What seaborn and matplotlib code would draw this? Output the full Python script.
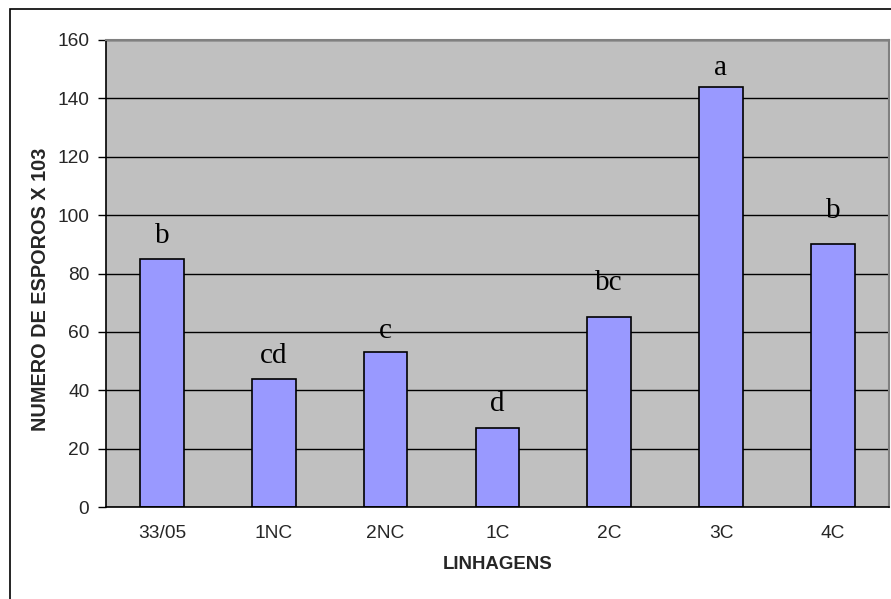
import pandas as pd
import matplotlib.pyplot as plt
import seaborn as sns
from matplotlib.patches import Rectangle
from matplotlib.ticker import FixedLocator

# -------------------------
# Data
# -------------------------
linhagens = ['33/05', '1NC', '2NC', '1C', '2C', '3C', '4C']
esporos = [85, 44, 53, 27, 65, 144, 90]
letras = ['b', 'cd', 'c', 'd', 'bc', 'a', 'b']
letras_y = [90.4, 49.4, 57.9, 32.9, 74.3, 148, 99]

data = pd.DataFrame({'linhagem': linhagens, 'esporos': esporos})

# -------------------------
# Plot
# -------------------------
sns.set_style('white')
plt.rcParams['font.family'] = ['Liberation Sans', 'DejaVu Sans']

fig = plt.figure(figsize=(8.91, 5.99), dpi=100)
ax = fig.add_axes([106 / 891, 1 - 507 / 599, 782.7 / 891, 467 / 599])
ax.set_facecolor('#C0C0C0')

sns.barplot(data=data, x='linhagem', y='esporos', color='#9999FF',
            saturation=1, edgecolor='black', linewidth=1.2, width=0.39, ax=ax)

# letters above the bars
for i, (txt, yy) in enumerate(zip(letras, letras_y)):
    ax.text(i, yy, txt, ha='center', va='baseline', fontsize=21,
            family='Liberation Serif', color='black')

ax.set_ylim(0, 160)
ax.set_xlim(-0.5, len(linhagens) - 0.5)
ax.set_yticks(range(0, 161, 20))
ax.yaxis.grid(True, color='black', linewidth=1)
ax.set_axisbelow(True)

ax.xaxis.set_minor_locator(FixedLocator([i - 0.5 for i in range(len(linhagens) + 1)]))
ax.tick_params(axis='x', which='major', length=0, pad=13, labelsize=13.8)
ax.tick_params(axis='x', which='minor', length=6, width=1, color='black', direction='out')
ax.tick_params(axis='y', length=6, width=1, color='black', direction='out', pad=6, labelsize=13.8, left=True)

for side in ['left', 'bottom']:
    ax.spines[side].set_color('black')
    ax.spines[side].set_linewidth(1.2)
for side in ['top', 'right']:
    ax.spines[side].set_color('#808080')
    ax.spines[side].set_linewidth(1.5)

ax.set_xlabel('LINHAGENS', fontsize=13.4, fontweight='bold')
ax.set_ylabel('NUMERO DE ESPOROS X 103', fontsize=14.3, fontweight='bold')
ax.xaxis.set_label_coords(0.5, -0.105)
ax.yaxis.set_label_coords(-0.0716, 0.466)

# outer chart border
fig.patches.append(Rectangle((10 / 891, -0.05), 1.2, 1 - 9 / 599 + 0.05,
                             transform=fig.transFigure, fill=False,
                             edgecolor='black', linewidth=1.2))

plt.savefig('out.png', dpi=100)
